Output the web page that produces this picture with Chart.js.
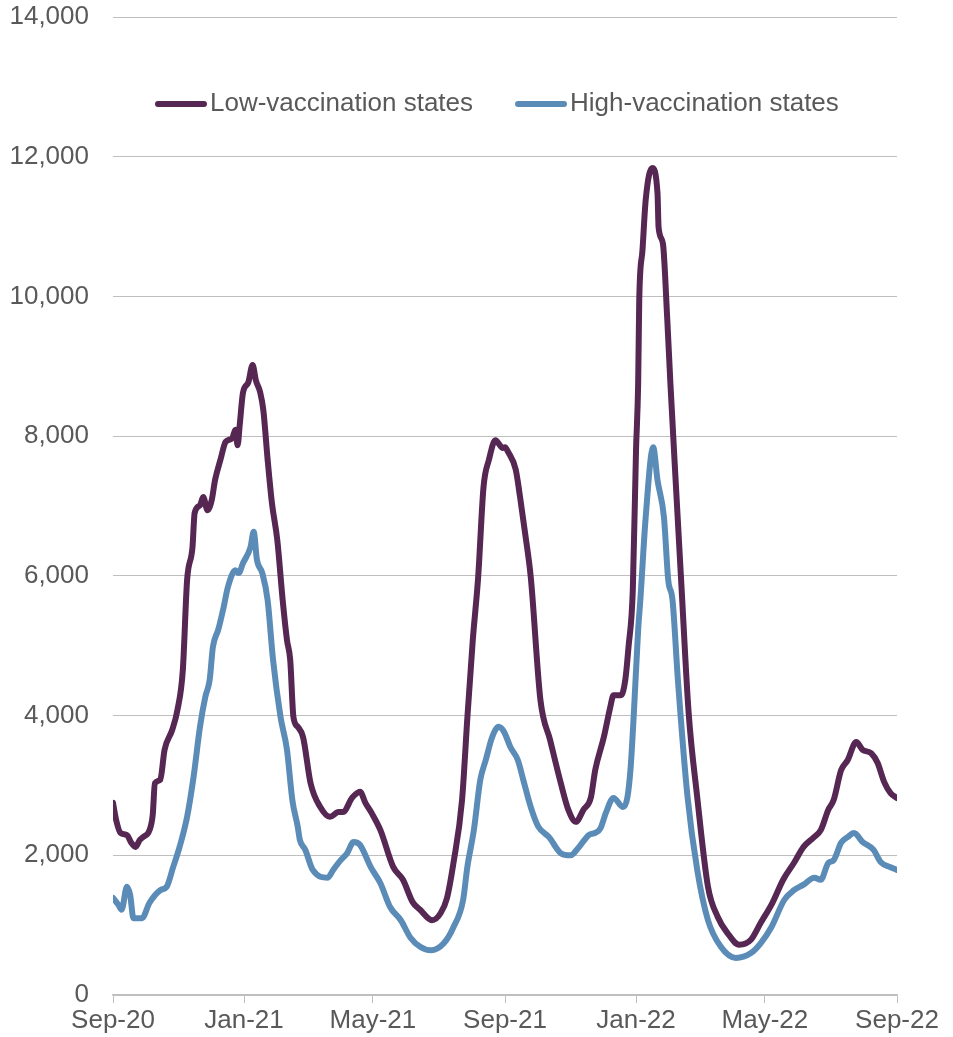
<!DOCTYPE html>
<html>
<head>
<meta charset="utf-8">
<script src="https://cdn.jsdelivr.net/npm/chart.js@4/dist/chart.umd.min.js"></script>
<style>
  html, body { margin: 0; padding: 0; background: #ffffff; }
  #wrap { width: 953px; height: 1037px; position: relative; }
</style>
</head>
<body>
<div id="wrap"><canvas id="c"></canvas></div>
<script>
// Days since 1 Sep 2020 for axis ticks
const tickDays = [0, 122, 242, 365, 487, 607, 730];
const tickLabels = ['Sep-20', 'Jan-21', 'May-21', 'Sep-21', 'Jan-22', 'May-22', 'Sep-22'];

const seriesNames = ['Low-vaccination states', 'High-vaccination states'];

const lowDays = [0,3,7,13,17,21,25,28,34,37,39,44,48,55,60,65,69,74,76,81,84,88,92,95,100,105,111,114,116,118,121,126,130,133,137,140,144,148,153,158,162,165,168,172,177,184,193,202,210,214,223,230,235,241,249,261,270,279,286,297,305,311,317,325,330,335,340,345,350,356,363,365,368,375,379,384,389,398,407,417,424,431,438,445,449,457,463,466,473,477,480,484,487,489,490,493,496,502,507,508,512,516,519,524,529,536,544,554,563,572,583,594,603,614,624,634,643,652,659,666,671,678,684,692,698,706,712,718,724,730];
const lowValues = [2750,2500,2320,2290,2180,2120,2220,2260,2360,2580,3030,3080,3510,3790,4080,4650,5940,6410,6900,7010,7130,6940,7090,7370,7660,7920,7970,8090,7870,8160,8620,8770,9020,8800,8630,8370,7660,7040,6510,5650,5080,4800,3980,3840,3690,3030,2690,2550,2620,2620,2830,2910,2750,2600,2360,1830,1650,1330,1220,1070,1170,1390,1890,2790,3980,5080,5980,7270,7660,7940,7830,7840,7770,7520,7130,6580,5980,4220,3650,3030,2650,2480,2650,2830,3220,3690,4120,4290,4290,4510,4980,5800,7800,8760,9950,10660,11380,11840,11480,10990,10760,9700,8760,7330,5940,4040,2830,1550,1120,890,720,790,1030,1320,1650,1890,2120,2250,2360,2650,2790,3220,3360,3620,3510,3460,3320,3050,2890,2820];

const highDays = [0,5,8,13,16,19,27,34,44,50,56,62,69,75,81,86,90,93,98,103,107,114,117,121,128,131,134,139,144,149,156,162,167,172,174,179,186,200,205,212,218,224,230,240,249,258,268,277,286,296,308,317,326,330,336,342,347,353,359,364,370,377,382,389,396,406,417,426,434,443,449,454,459,466,475,479,482,485,489,491,496,503,507,513,517,521,526,535,544,554,566,580,594,603,613,625,634,643,653,659,666,671,678,684,690,698,708,715,724,730];
const highValues = [1390,1290,1220,1550,1430,1100,1100,1320,1500,1550,1830,2120,2550,3120,3840,4270,4510,4980,5230,5550,5840,6080,6040,6180,6410,6630,6230,6040,5650,4800,3980,3510,2790,2410,2220,2080,1790,1680,1790,1930,2030,2190,2150,1830,1600,1260,1070,820,690,640,740,970,1360,1840,2360,3080,3360,3690,3840,3770,3550,3360,3080,2690,2410,2260,2030,2000,2120,2290,2320,2390,2610,2820,2690,2830,3260,4040,5230,5650,6840,7840,7370,6840,5940,5650,4510,2830,1790,1070,690,530,600,740,970,1360,1500,1580,1680,1650,1890,1930,2180,2260,2320,2190,2080,1900,1830,1790];

const COLORS = ['#552752', '#5b8cb8'];
const TEXT = '#595959';
const FONT = '"Liberation Sans", Arial, sans-serif';

const toPts = (xs, ys) => xs.map((x, i) => ({ x: x, y: ys[i] }));

const legendPlugin = {
  id: 'inlineLegend',
  afterDraw(chart) {
    const ctx = chart.ctx;
    const area = chart.chartArea;
    ctx.save();
    ctx.font = '26px ' + FONT;
    const lineLen = 52, gap = 3, itemGap = 42;
    const widths = chart.data.datasets.map(d => lineLen + gap + ctx.measureText(d.label).width);
    let x = (area.left + area.right) / 2 - 350;
    const y = area.top + 87;
    chart.data.datasets.forEach((d, i) => {
      ctx.strokeStyle = d.borderColor;
      ctx.lineWidth = 6;
      ctx.lineCap = 'round';
      ctx.beginPath();
      ctx.moveTo(x + 3, y);
      ctx.lineTo(x + lineLen - 3, y);
      ctx.stroke();
      ctx.fillStyle = TEXT;
      ctx.textBaseline = 'middle';
      ctx.textAlign = 'left';
      ctx.fillText(d.label, x + lineLen + gap, y);
      x += widths[i] + itemGap;
    });
    ctx.restore();
  }
};

new Chart(document.getElementById('c'), {
  type: 'line',
  data: {
    datasets: [
      { label: seriesNames[0], data: toPts(lowDays, lowValues), borderColor: COLORS[0], backgroundColor: COLORS[0] },
      { label: seriesNames[1], data: toPts(highDays, highValues), borderColor: COLORS[1], backgroundColor: COLORS[1] }
    ]
  },
  options: {
    responsive: true,
    maintainAspectRatio: false,
    animation: false,
    layout: { padding: { top: 17, right: 56, left: 0, bottom: 0 } },
    elements: {
      point: { radius: 0, hoverRadius: 0 },
      line: { borderWidth: 6, tension: 0.3, cubicInterpolationMode: 'monotone', borderCapStyle: 'round', borderJoinStyle: 'round' }
    },
    plugins: { legend: { display: false }, tooltip: { enabled: false } },
    scales: {
      x: {
        type: 'linear',
        min: 0, max: 730,
        afterBuildTicks: (s) => { s.ticks = tickDays.map(v => ({ value: v })); },
        afterFit: (s) => { s.height = 42; s.paddingLeft = 0; s.paddingRight = 0; },
        ticks: {
          autoSkip: false, maxRotation: 0, padding: 2,
          color: TEXT, font: { family: FONT, size: 26 },
          callback: (v) => { const i = tickDays.indexOf(v); return i >= 0 ? tickLabels[i] : ''; }
        },
        grid: { drawOnChartArea: false, drawTicks: true, tickLength: 8, color: '#bfbfbf' },
        border: { display: true, color: '#bfbfbf', width: 1.5 }
      },
      y: {
        min: 0, max: 14000,
        afterFit: (s) => { s.width = 113; s.paddingTop = 0; s.paddingBottom = 0; },
        ticks: {
          stepSize: 2000, padding: 24,
          color: TEXT, font: { family: FONT, size: 26 },
          callback: (v) => v.toLocaleString('en-US')
        },
        grid: { color: '#bfbfbf', lineWidth: 1, drawTicks: false },
        border: { display: false }
      }
    }
  },
  plugins: [legendPlugin]
});
</script>
</body>
</html>
